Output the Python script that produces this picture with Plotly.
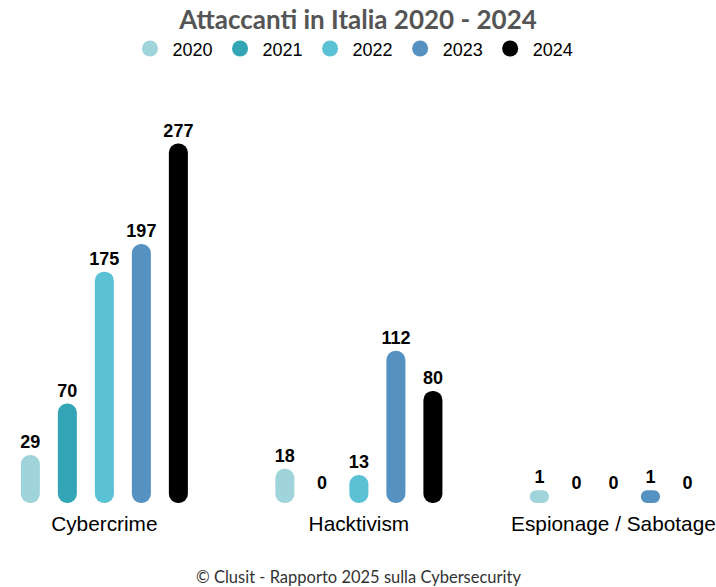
import plotly.graph_objects as go

categories = ["Cybercrime", "Hacktivism", "Espionage / Sabotage"]
years = ["2020", "2021", "2022", "2023", "2024"]
values_2020 = [29, 18, 1]
values_2021 = [70, 0, 0]
values_2022 = [175, 13, 0]
values_2023 = [197, 112, 1]
values_2024 = [277, 80, 0]
series = [values_2020, values_2021, values_2022, values_2023, values_2024]
colors = ["#9ed4da", "#33a5b6", "#5bc1d5", "#5592c1", "#000000"]

PAD = 9.2  # visual pill extension below zero (units)

fig = go.Figure()
for yr, vals, col in zip(years, series, colors):
    bases = [-PAD if v > 0 else -3.5 for v in vals]
    heights = [v + PAD if v > 0 else 0 for v in vals]
    fig.add_trace(go.Bar(
        x=categories, y=heights, base=bases, offsetgroup=yr, name=yr,
        marker=dict(color=col, line=dict(width=0)), showlegend=False,
        text=[str(v) for v in vals], texttemplate="%{text}",
        textposition="outside", cliponaxis=False, constraintext="none",
        textfont=dict(family="Liberation Sans, Arial", size=18, color="#000000", weight="bold"),
        hoverinfo="skip"))
    fig.add_trace(go.Scatter(
        x=[None], y=[None], mode="markers", name=yr,
        marker=dict(color=col, size=22, symbol="circle"), showlegend=True))

fig.update_layout(
    width=716, height=587,
    margin=dict(l=0, r=0, t=100, b=84, autoexpand=False),
    paper_bgcolor="white", plot_bgcolor="white",
    barmode="group", bargap=0.273, bargroupgap=0.486,
    barcornerradius="50%",
    title=dict(text="<b>Attaccanti in Italia 2020 - 2024</b>",
               font=dict(family="Lato, sans-serif", size=26, color="#555555"),
               x=0.5, xanchor="center", y=1 - 20 / 587, yanchor="middle"),
    legend=dict(orientation="h", x=0.493, xanchor="center", y=1.127, yanchor="middle",
                font=dict(family="Liberation Sans, Arial", size=18, color="#000000"),
                itemwidth=35, traceorder="normal"),
    xaxis=dict(type="category", range=[-0.41, 2.403], showgrid=False, showline=False,
               zeroline=False, ticks="outside", ticklen=2, tickcolor="rgba(0,0,0,0)",
               automargin=False,
               tickfont=dict(family="Liberation Sans, Arial", size=20.8, color="#000000")),
    yaxis=dict(range=[-PAD, 311.7], visible=False, showgrid=False, zeroline=False,
               automargin=False),
    annotations=[dict(text="© Clusit - Rapporto 2025 sulla Cybersecurity",
                      xref="paper", yref="paper", x=0.5, y=-74 / 403,
                      xanchor="center", yanchor="middle", showarrow=False,
                      font=dict(family="Lato, sans-serif", size=16.5, color="#333333"))],
)

fig.write_html("out.html", config={"displayModeBar": False},
               post_script="document.body.style.margin='0px';")
